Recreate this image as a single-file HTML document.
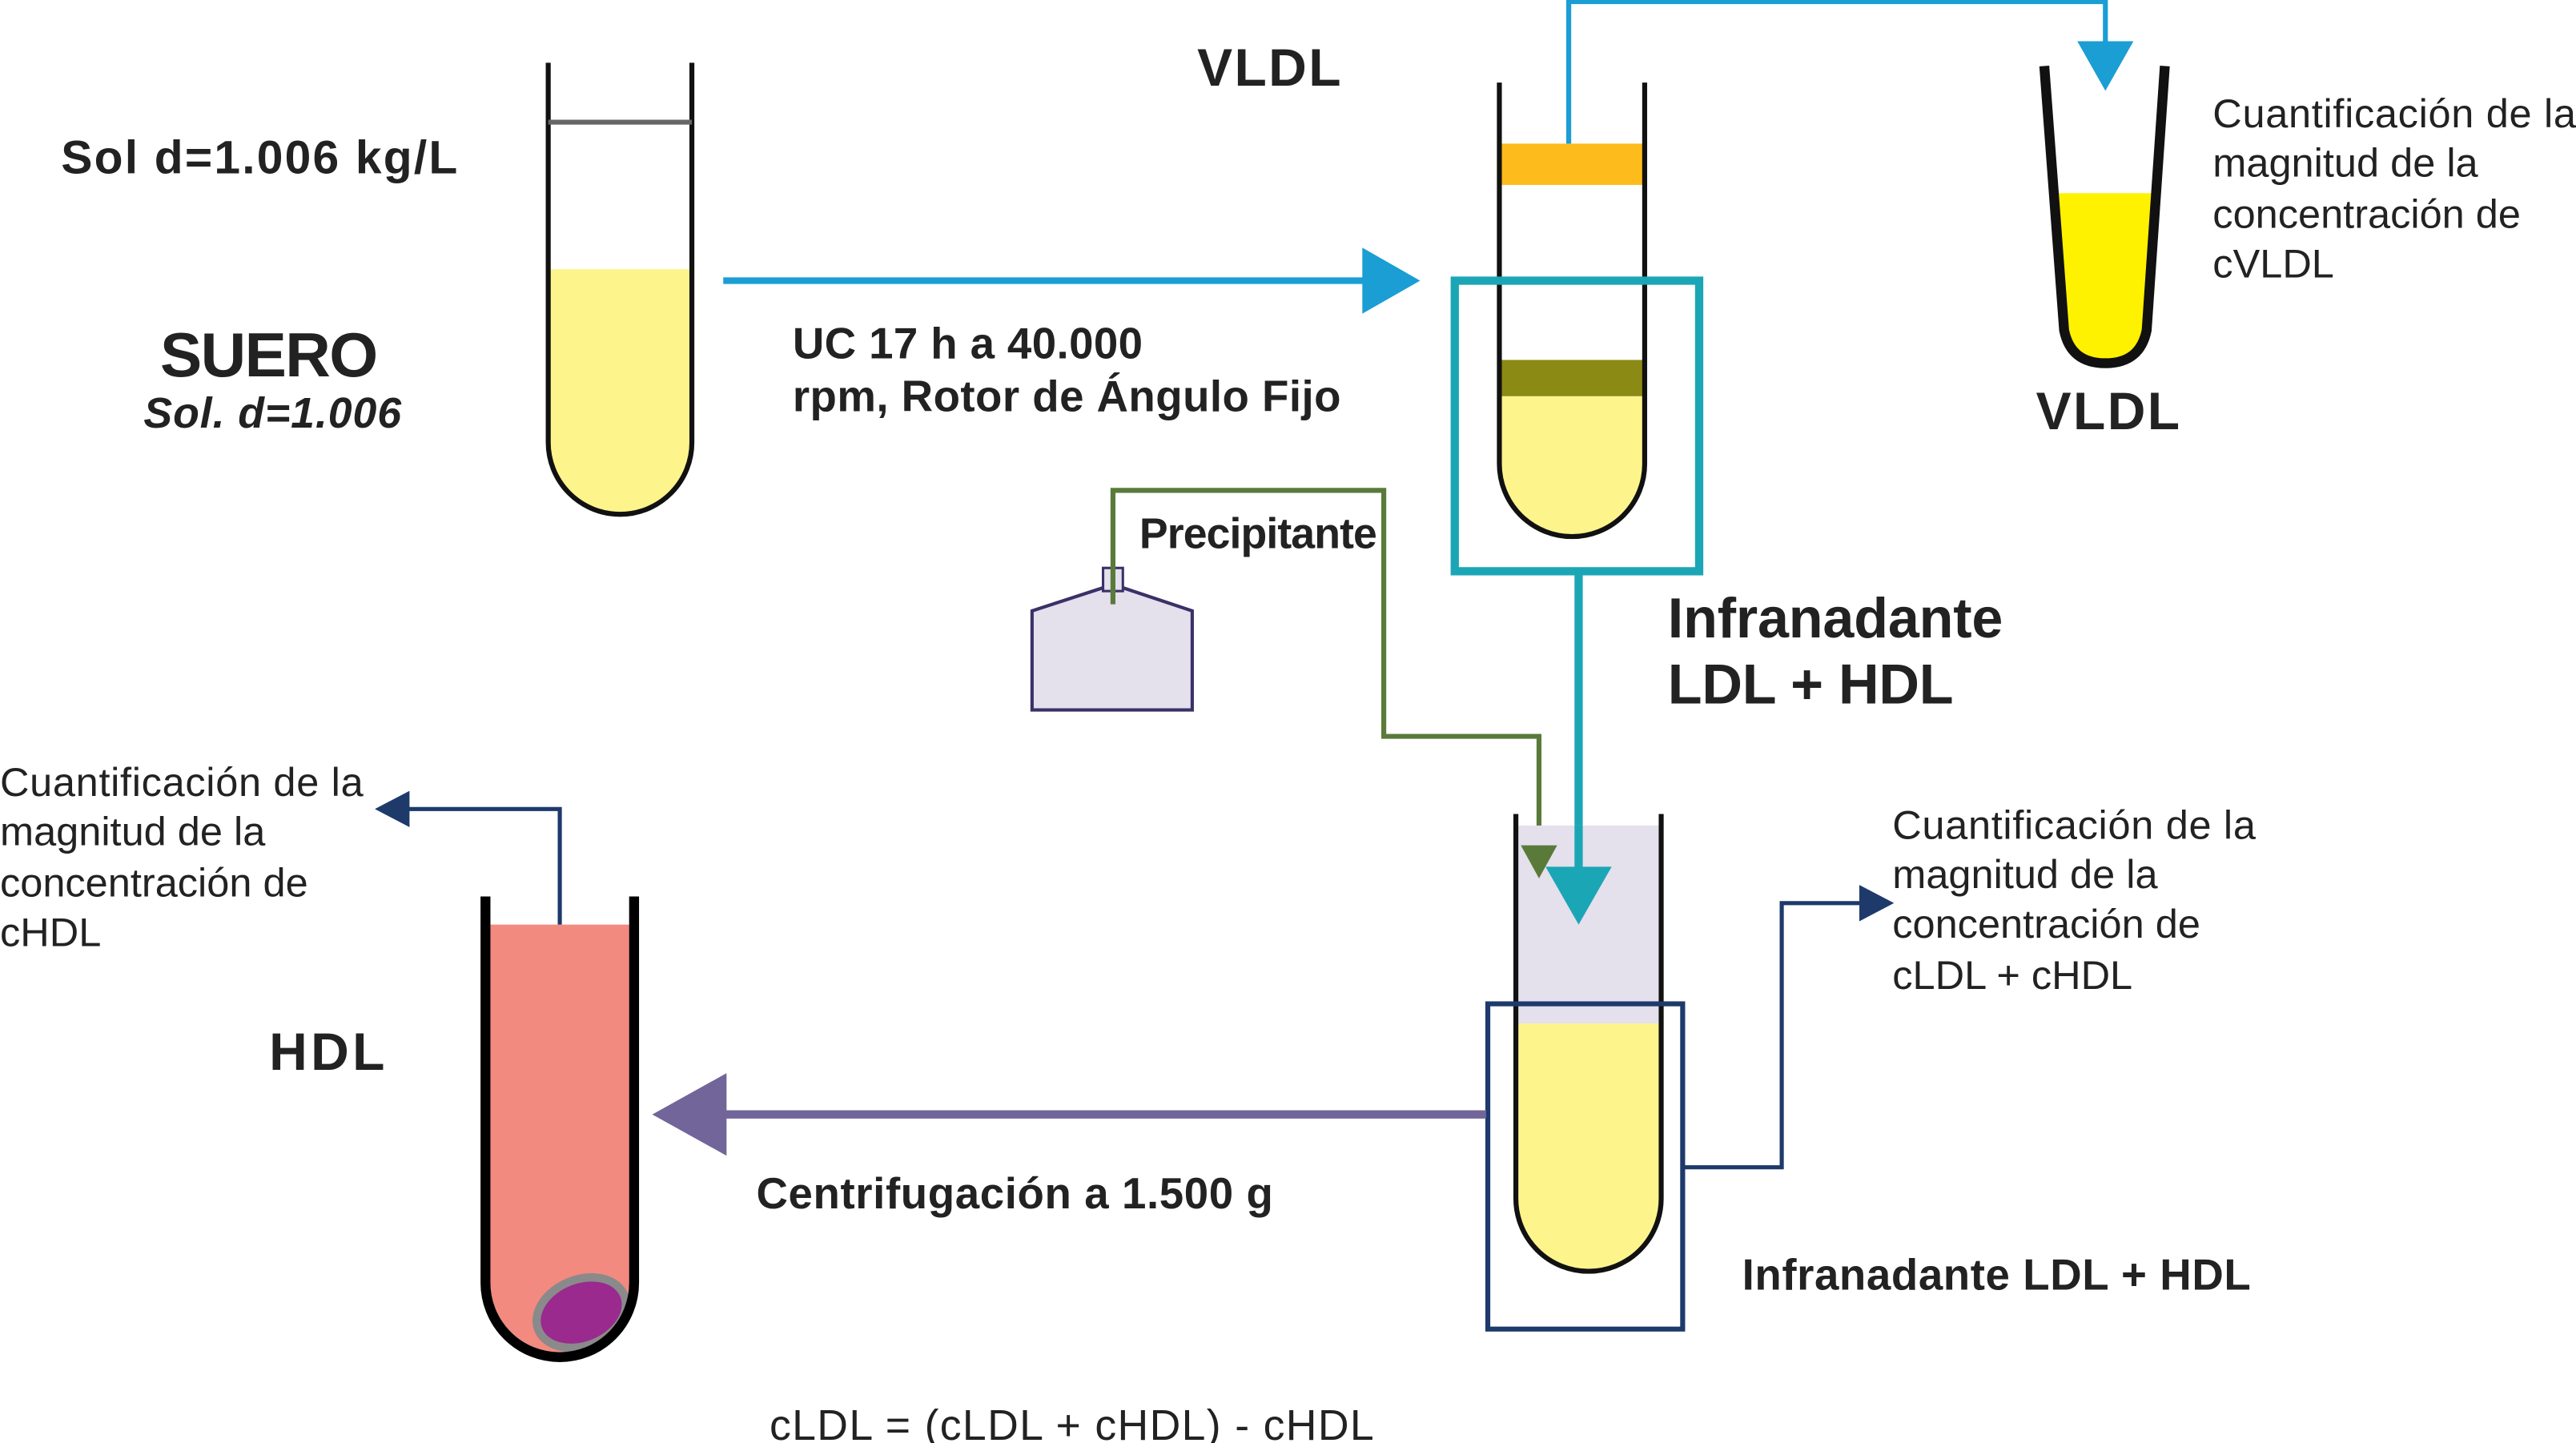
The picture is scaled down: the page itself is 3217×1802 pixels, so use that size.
<!DOCTYPE html>
<html><head><meta charset="utf-8"><style>
html,body{margin:0;padding:0;background:#fff;}
svg{display:block;}
text{font-family:"Liberation Sans",Arial,sans-serif;fill:#222;}
.b{font-weight:bold;}
</style></head><body>
<svg width="3217" height="1802" viewBox="0 0 1560 874" preserveAspectRatio="none" xmlns="http://www.w3.org/2000/svg">
<!-- Tube 1 -->
<path d="M332,163 L419,163 L419,268 A43.5,43.5 0 0 1 332,268 Z" fill="#fdf48c"/>
<path d="M332,38 L332,268 A43.5,43.5 0 0 0 419,268 L419,38" fill="none" stroke="#111" stroke-width="3"/>
<line x1="332" y1="74" x2="419" y2="74" stroke="#666" stroke-width="3"/>
<text x="37" y="105" class="b" font-size="28.5" textLength="240">Sol d=1.006 kg/L</text>
<text x="97" y="228" class="b" font-size="38" textLength="132">SUERO</text>
<text x="87" y="259" class="b" font-size="26" font-style="italic" textLength="156">Sol. d=1.006</text>
<!-- arrow 1 -->
<line x1="438" y1="170" x2="830" y2="170" stroke="#1a9ed4" stroke-width="4"/>
<polygon points="825,150 860,170 825,190" fill="#1a9ed4"/>
<text x="480" y="217" class="b" font-size="26.5" textLength="212">UC 17 h a 40.000</text>
<text x="480" y="249" class="b" font-size="26.5" textLength="332">rpm, Rotor de Ángulo Fijo</text>
<text x="725" y="52" class="b" font-size="32" textLength="87">VLDL</text>
<!-- Tube 2 -->
<rect x="908" y="87" width="88" height="25" fill="#fdbb1c"/>
<rect x="908" y="218" width="88" height="22" fill="#8b8a14"/>
<path d="M908,240 L996,240 L996,281 A44,44 0 0 1 908,281 Z" fill="#fdf48c"/>
<path d="M908,50 L908,281 A44,44 0 0 0 996,281 L996,50" fill="none" stroke="#111" stroke-width="3"/>
<rect x="881" y="170" width="148" height="176" fill="none" stroke="#1ba6b6" stroke-width="5"/>
<polyline points="950,87 950,1 1275,1 1275,30" fill="none" stroke="#1a9ed4" stroke-width="3"/>
<polygon points="1258,25 1292,25 1275,55" fill="#1a9ed4"/>
<!-- Tube 3 -->
<path d="M1244,117 L1306,117 L1299,202 Q1297,218 1275,219 Q1253,218 1251,202 Z" fill="#fff200"/>
<path d="M1238,40 L1250,200 Q1254,220 1275,220 Q1296,220 1300,200 L1311,40" fill="none" stroke="#111" stroke-width="6"/>
<text x="1233" y="260" class="b" font-size="32" textLength="87">VLDL</text>
<text font-size="24.5"><tspan x="1340" y="77" textLength="220">Cuantificación de la</tspan><tspan x="1340" y="107">magnitud de la</tspan><tspan x="1340" y="138">concentración de</tspan><tspan x="1340" y="168">cVLDL</tspan></text>
<!-- teal down -->
<line x1="956" y1="346" x2="956" y2="530" stroke="#1ba6b6" stroke-width="5"/>
<text x="1010" y="386" class="b" font-size="34" textLength="203">Infranadante</text>
<text x="1010" y="426" class="b" font-size="34" textLength="173">LDL + HDL</text>
<!-- bottle -->
<polygon points="625,370 668,356 680,356 722,370 722,430 625,430" fill="#e4e0ec" stroke="#3a3168" stroke-width="2"/>
<rect x="668" y="344" width="12" height="14" fill="#e4e0ec" stroke="#3a3168" stroke-width="1.5"/>
<polyline points="674,366 674,297 838,297 838,446 932,446 932,515" fill="none" stroke="#5a7a3a" stroke-width="3"/>
<text x="690" y="332" class="b" font-size="26" textLength="144">Precipitante</text>
<!-- Tube 4 -->
<rect x="918" y="500" width="88" height="120" fill="#e4e0ec"/>
<path d="M918,620 L1006,620 L1006,726 A44,44 0 0 1 918,726 Z" fill="#fdf48c"/>
<path d="M918,493 L918,726 A44,44 0 0 0 1006,726 L1006,493" fill="none" stroke="#111" stroke-width="3"/>
<line x1="956" y1="500" x2="956" y2="530" stroke="#1ba6b6" stroke-width="5"/>
<polygon points="936,525 976,525 956,560" fill="#1ba6b6"/>
<polygon points="921,512 943,512 932,532" fill="#5a7a3a"/>
<rect x="901" y="608" width="118" height="197" fill="none" stroke="#1d3a6b" stroke-width="3"/>
<polyline points="1019,707 1079,707 1079,547 1130,547" fill="none" stroke="#1d3a6b" stroke-width="2.5"/>
<polygon points="1126,536 1147,547 1126,558" fill="#1d3a6b"/>
<text font-size="24.5"><tspan x="1146" y="508" textLength="220">Cuantificación de la</tspan><tspan x="1146" y="538">magnitud de la</tspan><tspan x="1146" y="568">concentración de</tspan><tspan x="1146" y="599">cLDL + cHDL</tspan></text>
<text x="1055" y="781" class="b" font-size="26.5" textLength="308">Infranadante LDL + HDL</text>
<!-- purple arrow -->
<line x1="900" y1="675" x2="435" y2="675" stroke="#72659a" stroke-width="5"/>
<polygon points="440,650 395,675 440,700" fill="#72659a"/>
<text x="458" y="732" class="b" font-size="26.5" textLength="313">Centrifugación a 1.500 g</text>
<!-- HDL tube -->
<path d="M297,560 L381,560 L381,777 A42,42 0 0 1 297,777 Z" fill="#f28a80"/>
<ellipse cx="352" cy="795" rx="28" ry="20" transform="rotate(-22 352 795)" fill="#9a2a8e" stroke="#8a8a8a" stroke-width="5"/>
<path d="M294,543 L294,777 A45,45 0 0 0 384,777 L384,543" fill="none" stroke="#000" stroke-width="6"/>
<polyline points="339,560 339,490 245,490" fill="none" stroke="#1d3a6b" stroke-width="2.5"/>
<polygon points="248,479 227,490 248,501" fill="#1d3a6b"/>
<text font-size="24.5"><tspan x="0" y="482" textLength="220">Cuantificación de la</tspan><tspan x="0" y="512">magnitud de la</tspan><tspan x="0" y="543">concentración de</tspan><tspan x="0" y="573">cHDL</tspan></text>
<text x="163" y="648" class="b" font-size="32" textLength="70">HDL</text>
<text x="466" y="872" font-size="26" textLength="366">cLDL = (cLDL + cHDL) - cHDL</text>
</svg>
</body></html>
